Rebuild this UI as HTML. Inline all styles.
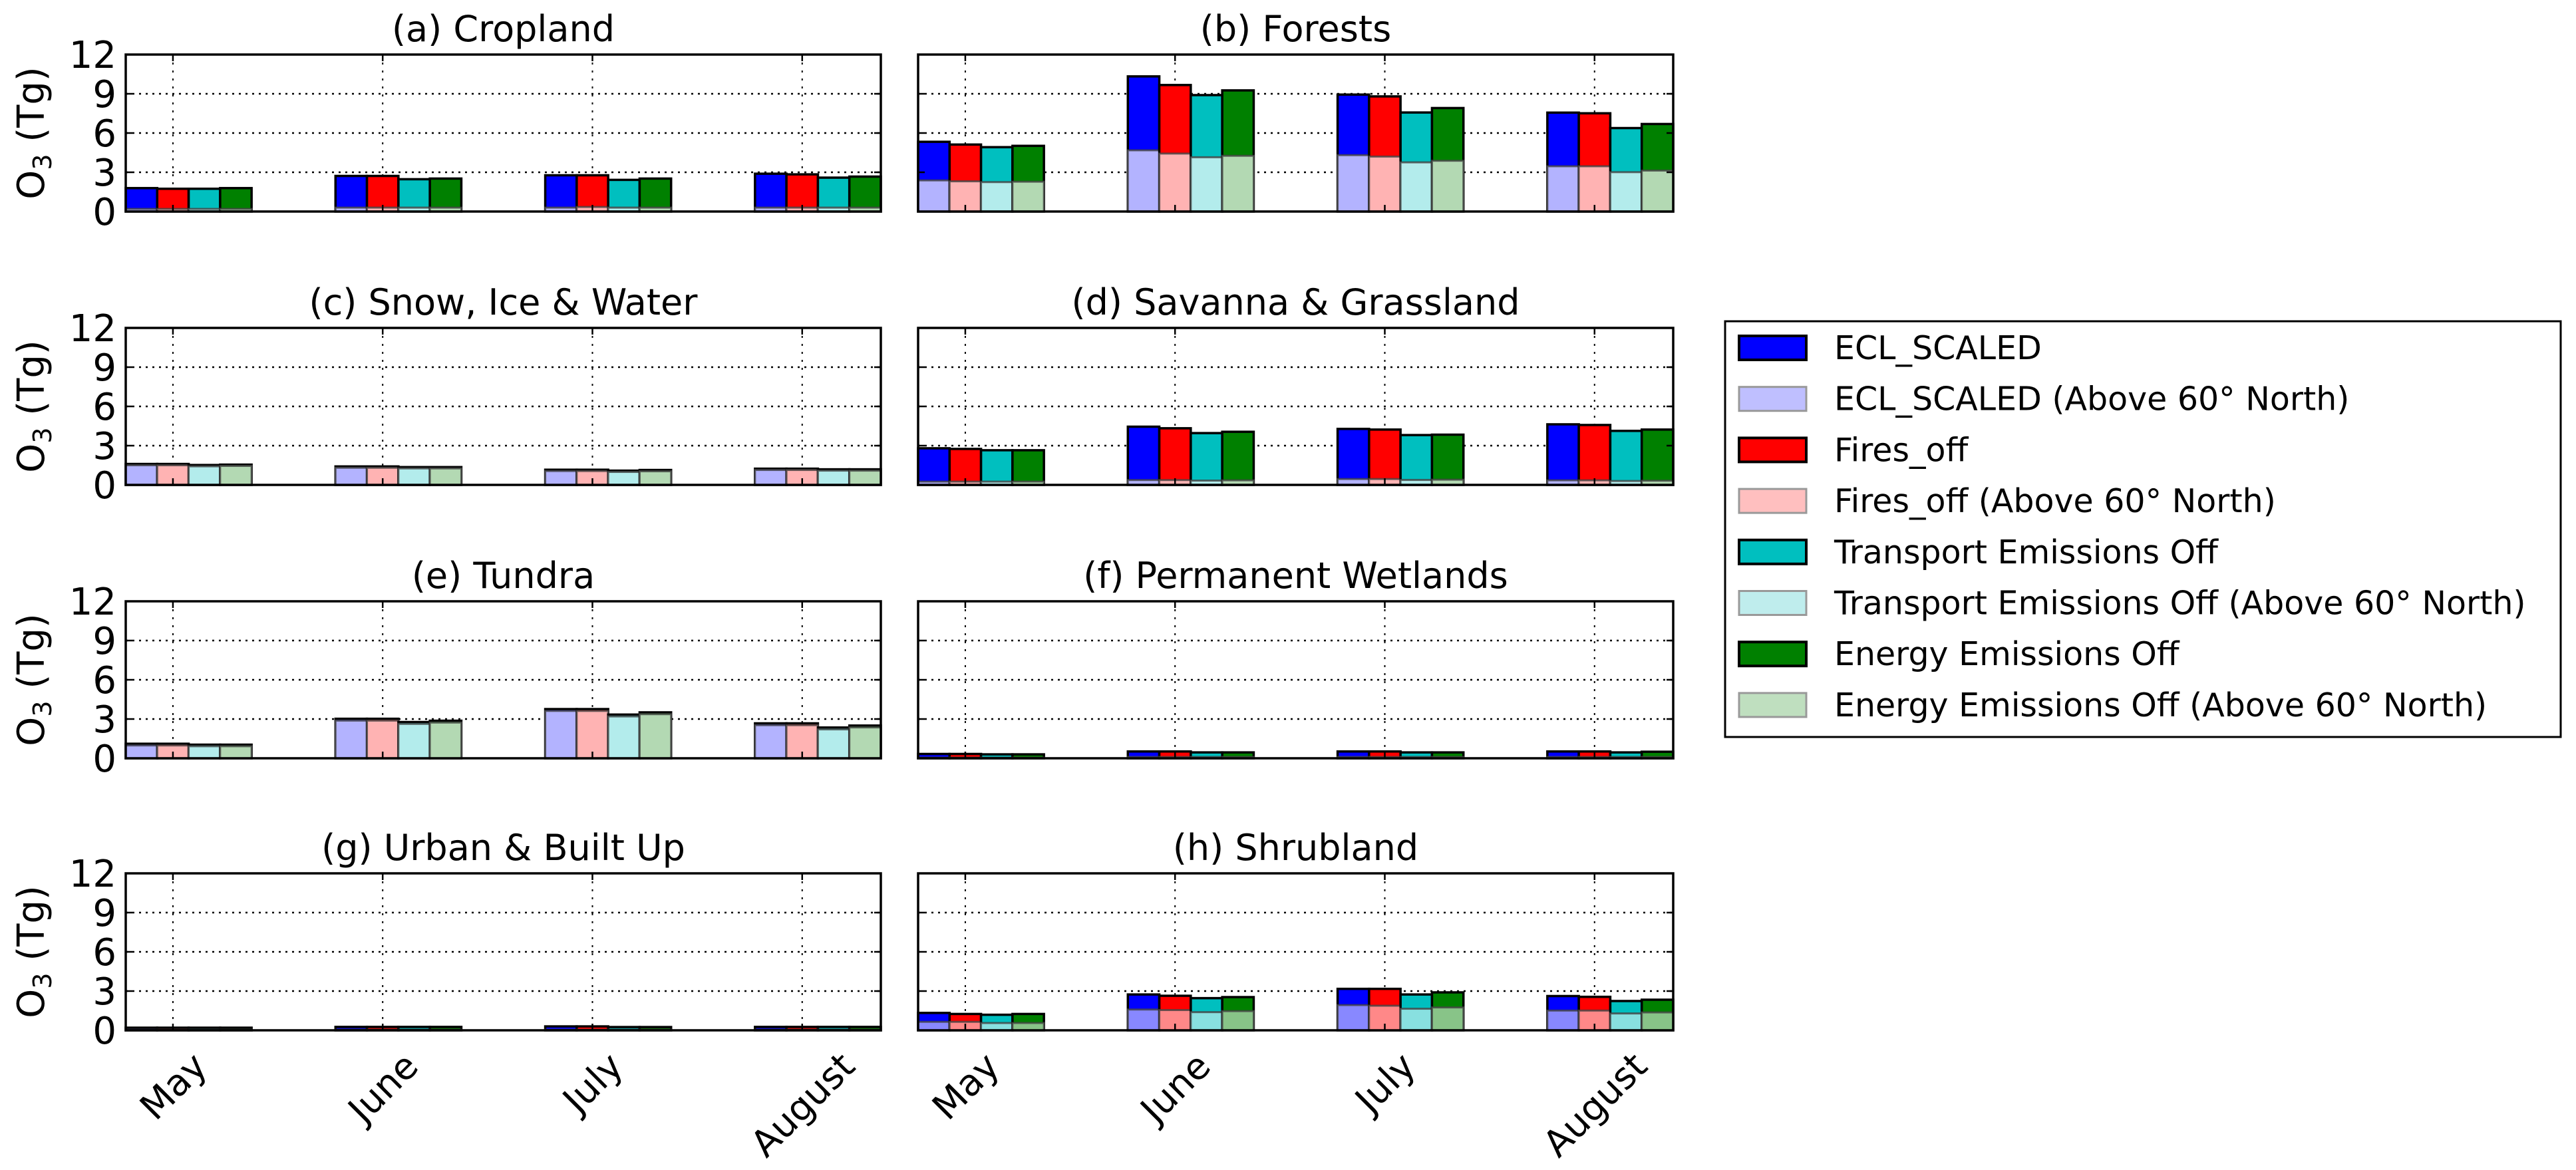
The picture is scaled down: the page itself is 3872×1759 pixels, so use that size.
<!DOCTYPE html>
<html><head><meta charset="utf-8"><style>
html,body{margin:0;padding:0;background:#fff;}
svg{display:block;font-family:"DejaVu Sans","Liberation Sans",sans-serif;}
</style></head><body>
<svg id="chart" xmlns="http://www.w3.org/2000/svg" width="3872" height="1759" viewBox="0 0 3872 1759">
<rect width="3872" height="1759" fill="#fff"/>
</svg>
<script>
const months = ["May","June","July","August"];
const seriesNames = ["ECL_SCALED","Fires_off","Transport Emissions Off","Energy Emissions Off"];
const yTicks = [0,3,6,9,12];
const panelTitles = ["(a) Cropland","(b) Forests","(c) Snow, Ice & Water","(d) Savanna & Grassland","(e) Tundra","(f) Permanent Wetlands","(g) Urban & Built Up","(h) Shrubland"];
// totals [panel][month][series]
const totA = [[1.79,1.74,1.74,1.79],[2.72,2.72,2.47,2.52],[2.77,2.77,2.42,2.52],[2.89,2.84,2.59,2.67]];
const lowA = [[0.2,0.2,0.2,0.2],[0.3,0.3,0.3,0.3],[0.3,0.35,0.3,0.3],[0.3,0.3,0.3,0.3]];
const totB = [[5.33,5.12,4.92,5.02],[10.33,9.67,8.9,9.26],[8.94,8.8,7.57,7.91],[7.56,7.51,6.38,6.69]];
const lowB = [[2.38,2.31,2.25,2.28],[4.68,4.43,4.15,4.26],[4.31,4.2,3.76,3.88],[3.46,3.46,3.01,3.13]];
const totC = [[1.6,1.6,1.52,1.55],[1.41,1.41,1.36,1.36],[1.16,1.16,1.09,1.14],[1.24,1.24,1.19,1.19]];
const lowC = [[1.5,1.5,1.42,1.45],[1.31,1.31,1.26,1.26],[1.06,1.06,0.99,1.04],[1.14,1.14,1.09,1.09]];
const totD = [[2.8,2.75,2.65,2.65],[4.45,4.33,3.96,4.06],[4.28,4.23,3.81,3.84],[4.63,4.58,4.13,4.23]];
const lowD = [[0.25,0.25,0.25,0.25],[0.37,0.37,0.33,0.35],[0.45,0.45,0.38,0.4],[0.35,0.35,0.3,0.32]];
const totE = [[1.11,1.11,1.04,1.04],[3.02,3.02,2.77,2.87],[3.76,3.76,3.34,3.51],[2.67,2.67,2.35,2.5]];
const lowE = [[0.98,0.98,0.92,0.92],[2.88,2.88,2.63,2.73],[3.62,3.62,3.2,3.37],[2.53,2.53,2.21,2.36]];
const totF = [[0.33,0.33,0.3,0.3],[0.52,0.52,0.45,0.45],[0.52,0.52,0.45,0.45],[0.52,0.52,0.45,0.5]];
const lowF = [[0.05,0.05,0.05,0.05],[0.1,0.1,0.1,0.1],[0.1,0.1,0.1,0.1],[0.1,0.1,0.1,0.1]];
const totG = [[0.2,0.2,0.2,0.2],[0.26,0.26,0.26,0.26],[0.3,0.3,0.25,0.25],[0.26,0.26,0.26,0.26]];
const lowG = [[0.05,0.05,0.05,0.05],[0.05,0.05,0.05,0.05],[0.05,0.05,0.05,0.05],[0.05,0.05,0.05,0.05]];
const totH = [[1.33,1.25,1.19,1.25],[2.74,2.64,2.46,2.54],[3.17,3.17,2.74,2.9],[2.62,2.56,2.24,2.34]];
const lowH = [[0.65,0.65,0.56,0.56],[1.59,1.55,1.39,1.47],[1.93,1.88,1.65,1.75],[1.51,1.51,1.29,1.37]];

const totals = [totA,totB,totC,totD,totE,totF,totG,totH];
const lows = [lowA,lowB,lowC,lowD,lowE,lowF,lowG,lowH];
const darkColors = ["#0000ff","#ff0000","#00bfbf","#008000"];
const lightColors = ["#b3b3ff","#ffb3b3","#b3ecec","#b3d9b3"];
const lightColorsH = ["#8888ff","#ff8888","#88e0e0","#88c488"];

const NS="http://www.w3.org/2000/svg";
const svg=document.getElementById('chart');
function mk(tag,attrs,parent){const e=document.createElementNS(NS,tag);for(const k in attrs)e.setAttribute(k,attrs[k]);(parent||svg).appendChild(e);return e;}

const colX=[189,1380], W=1135, H=236;
const rowY=[82,493,904,1313];
const BW=0.15, XMIN=-0.225, XMAX=3.375;

for(let p=0;p<8;p++){
  const col=p%2,row=Math.floor(p/2);
  const x0=colX[col], y0=rowY[row];
  const g=mk('g',{});
  
  
  const xs=v=>x0+(v-XMIN)/(XMAX-XMIN)*W;
  const ys=v=>y0+H-v/12*H;
  for(let i=0;i<months.length;i++){
    const l=mk('line',{x1:xs(i),x2:xs(i),y1:y0,y2:y0+H,stroke:'#000','stroke-width':2,'stroke-dasharray':'3 9'},g);
    
    
  }
  yTicks.forEach(t=>{
    if(t>0&&t<12){
      const l=mk('line',{x1:x0,x2:x0+W,y1:ys(t),y2:ys(t),stroke:'#000','stroke-width':2.5,'stroke-dasharray':'3 7'},g);
      
      
    }
  });
  for(let m=0;m<months.length;m++){
    for(let s=0;s<seriesNames.length;s++){
      const tot=totals[p][m][s], low=lows[p][m][s];
      const left=xs(m+(s-1)*BW-BW/2);
      const bw=xs(BW)-xs(0);
      const r=mk('rect',{x:left,y:ys(tot),width:bw,height:ys(0)-ys(tot),fill:darkColors[s],stroke:'#000','stroke-width':3.5},g);
      
      
      const lc=(p===7?lightColorsH:lightColors)[s];
      const r2=mk('rect',{x:left,y:ys(low),width:bw,height:ys(0)-ys(low),fill:lc,stroke:'#444','stroke-opacity':0.8,'stroke-width':3},g);
      
      
    }
  }
  yTicks.forEach(t=>{
    mk('line',{x1:x0,x2:x0+10,y1:ys(t),y2:ys(t),stroke:'#000','stroke-width':2.5},g);
    mk('line',{x1:x0+W-10,x2:x0+W,y1:ys(t),y2:ys(t),stroke:'#000','stroke-width':2.5},g);
    if(col===0){
      const tx=mk('text',{x:x0-14,y:ys(t)+20,'text-anchor':'end','font-size':56,fill:'#000'},g);
      tx.textContent=t;
      
      
    }
  });
  for(let i=0;i<months.length;i++){
    mk('line',{x1:xs(i),x2:xs(i),y1:y0+H,y2:y0+H-10,stroke:'#000','stroke-width':2.5},g);
    mk('line',{x1:xs(i),x2:xs(i),y1:y0,y2:y0+10,stroke:'#000','stroke-width':2.5},g);
  }
  const fr=mk('rect',{x:x0,y:y0,width:W,height:H,fill:'none',stroke:'#000','stroke-width':3.5},g);
  
  
  const ti=mk('text',{x:x0+W/2,y:y0-20,'text-anchor':'middle','font-size':54,fill:'#000'},g);
  ti.textContent=panelTitles[p];
  
  
  if(col===0){
    const cy=y0+H/2;
    const yl=mk('text',{x:0,y:0,transform:`translate(66,${cy}) rotate(-90)`,'text-anchor':'middle','font-size':56,fill:'#000'},g);
    yl.innerHTML='O<tspan font-size="38" dy="11">3</tspan><tspan dy="-11"> (Tg)</tspan>';
    
    
  }
  if(row===3){
    for(let i=0;i<months.length;i++){
      const t=mk('text',{'text-anchor':'middle','font-size':55,fill:'#000'},g);
      t.textContent=months[i];
      
      
      const len=t.getComputedTextLength();
      const half=(len*0.7071+40*0.7071)/2;
      const cx=xs(i), cy=1578+half;
      t.setAttribute('transform',`translate(${cx},${cy}) rotate(-45) translate(0,20)`);
    }
  }
}

const lg=mk('g',{});


const lb=mk('rect',{x:2593,y:483,width:1256,height:625,fill:'#fff',stroke:'#000','stroke-width':3},lg);


const legLight=["#bfbfff","#ffbfbf","#bfeded","#bfdfbf"];
for(let s=0;s<4;s++){
  for(let k=0;k<2;k++){
    const idx=s*2+k, cy=523+idx*76.7;
    const sw=mk('rect',{x:2614,y:cy-18,width:101,height:36,fill:k?legLight[s]:darkColors[s],stroke:k?'#999':'#000','stroke-width':k?3:4},lg);
    
    
    const t=mk('text',{x:2757,y:cy+17,'font-size':49,fill:'#000'},lg);
    t.textContent=seriesNames[s]+(k?' (Above 60\u00B0 North)':'');
    
    
    if(k){const L=t.getComputedTextLength(); if(s===2&&L>1075) t.setAttribute('textLength',1075);}
  }
}
</script>
</body></html>
